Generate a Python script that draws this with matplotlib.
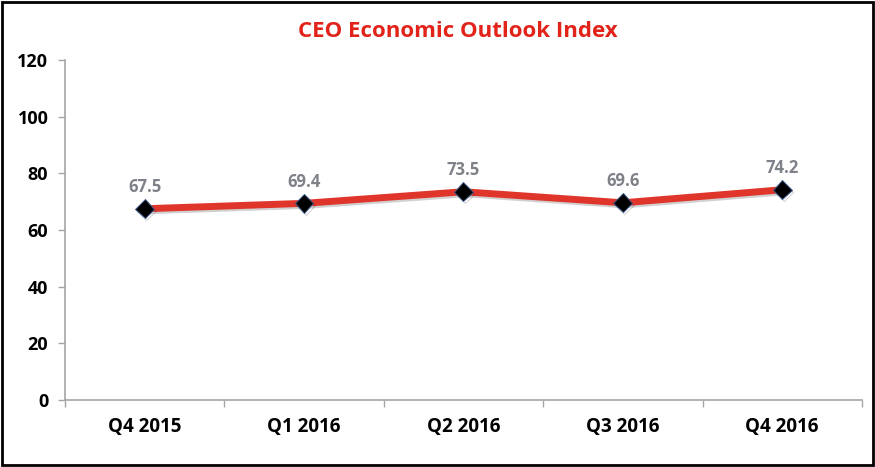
import numpy as np
import matplotlib
matplotlib.use("Agg")
import matplotlib.pyplot as plt
import matplotlib.patches as patches
import matplotlib.patheffects as pe

quarters = ["Q4 2015", "Q1 2016", "Q2 2016", "Q3 2016", "Q4 2016"]
index_values = [67.5, 69.4, 73.5, 69.6, 74.2]
y_ticks = [0, 20, 40, 60, 80, 100, 120]

plt.rcParams['font.family'] = ['Open Sans', 'DejaVu Sans']

fig = plt.figure(figsize=(8.75, 4.67), dpi=100)
ax = fig.add_axes([0.0743, 0.1435, 0.9107, 0.728])

shadow = [pe.SimpleLineShadow(offset=(1.2, -1.5), shadow_color="black", alpha=0.18),
          pe.Normal()]

x = np.arange(len(quarters))
ax.plot(x, index_values, color="#e0352b", linewidth=5, zorder=2,
        solid_capstyle="butt", path_effects=shadow)
ax.plot(x, index_values, linestyle="none", marker="D", markersize=9.5,
        markerfacecolor="black", markeredgecolor="#3a5a8a",
        markeredgewidth=0.7, zorder=3, path_effects=shadow)

for xi, v in zip(x, index_values):
    ax.annotate(f"{v}", (xi, v), xytext=(0, 9), textcoords="offset points",
                ha="center", va="bottom", fontsize=12, fontweight="bold",
                color="#7f8188")

ax.set_xlim(-0.5, len(quarters) - 0.5)
ax.set_ylim(0, 120)
ax.set_yticks(y_ticks)
ax.set_yticklabels([str(t) for t in y_ticks], fontsize=13, fontweight="bold")
ax.set_xticks(x)
ax.set_xticklabels(quarters, fontsize=13.5, fontweight="bold")
ax.set_xticks(np.arange(-0.5, len(quarters)), minor=True)
ax.tick_params(axis="x", which="major", length=0, pad=12)
ax.tick_params(axis="x", which="minor", length=5, color="#a6a6a6", width=1)
ax.tick_params(axis="y", length=5, color="#a6a6a6", width=1, pad=7)

for side in ["top", "right"]:
    ax.spines[side].set_visible(False)
for side in ["left", "bottom"]:
    ax.spines[side].set_color("#a6a6a6")
    ax.spines[side].set_linewidth(1.2)

fig.text(0.523, 0.932, "CEO Economic Outlook Index", ha="center", va="center",
         fontsize=16, fontweight="bold", color="#e2231a")

fig.patches.append(patches.Rectangle((0.002, 0.004), 0.996, 0.992,
                                     transform=fig.transFigure, fill=False,
                                     edgecolor="black", linewidth=2))

fig.savefig("out.png", dpi=100)
